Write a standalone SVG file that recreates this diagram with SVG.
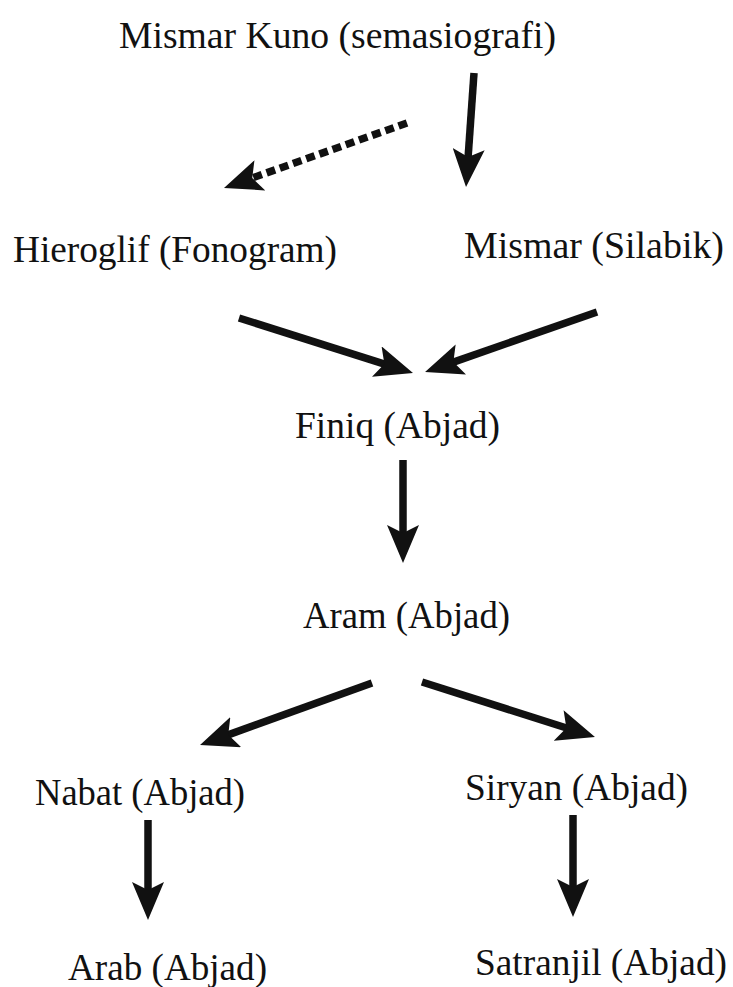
<svg xmlns="http://www.w3.org/2000/svg" width="733" height="987" viewBox="0 0 733 987">
<style>
.lbl{font-family:"Liberation Serif","Times New Roman",serif;font-size:37px;fill:#111;}
.ln{stroke:#111;stroke-width:7.5;fill:none;marker-end:url(#ah);}
.dash{stroke-dasharray:9 5;}
</style>
<defs>
<marker id="ah" viewBox="0 0 38 32" markerWidth="38" markerHeight="32" refX="14" refY="16" orient="auto" markerUnits="userSpaceOnUse">
<path d="M0,0 L38,16 L0,32 L8,16 z" fill="#111"/>
</marker>
</defs>
<rect width="733" height="987" fill="#fff"/>
<g id="connectors">
<line class="ln" x1="474" y1="73" x2="467.7" y2="163.1"/>
<line class="ln dash" x1="407" y1="123" x2="246.6" y2="180"/>
<line class="ln" x1="239" y1="318" x2="390.1" y2="365.8"/>
<line class="ln" x1="597" y1="312" x2="447.7" y2="364.1"/>
<line class="ln" x1="403" y1="460" x2="403" y2="539"/>
<line class="ln" x1="372" y1="683" x2="222.6" y2="736.9"/>
<line class="ln" x1="422" y1="682" x2="572.1" y2="729.7"/>
<line class="ln" x1="148" y1="820" x2="148" y2="896"/>
<line class="ln" x1="573" y1="815" x2="573" y2="893"/>
</g>
<g id="mismar-kuno"><text class="lbl" x="119" y="48" textLength="437" lengthAdjust="spacingAndGlyphs">Mismar Kuno (semasiografi)</text></g>
<g id="hieroglif"><text class="lbl" x="13" y="262" textLength="324" lengthAdjust="spacingAndGlyphs">Hieroglif (Fonogram)</text></g>
<g id="mismar-silabik"><text class="lbl" x="464" y="258" textLength="260" lengthAdjust="spacingAndGlyphs">Mismar (Silabik)</text></g>
<g id="finiq"><text class="lbl" x="295" y="438" textLength="205" lengthAdjust="spacingAndGlyphs">Finiq (Abjad)</text></g>
<g id="aram"><text class="lbl" x="303" y="628" textLength="207" lengthAdjust="spacingAndGlyphs">Aram (Abjad)</text></g>
<g id="nabat"><text class="lbl" x="35" y="805" textLength="210" lengthAdjust="spacingAndGlyphs">Nabat (Abjad)</text></g>
<g id="siryan"><text class="lbl" x="465" y="800" textLength="223" lengthAdjust="spacingAndGlyphs">Siryan (Abjad)</text></g>
<g id="arab"><text class="lbl" x="68" y="980" textLength="199" lengthAdjust="spacingAndGlyphs">Arab (Abjad)</text></g>
<g id="satranjil"><text class="lbl" x="475" y="975" textLength="252" lengthAdjust="spacingAndGlyphs">Satranjil (Abjad)</text></g>
</svg>
